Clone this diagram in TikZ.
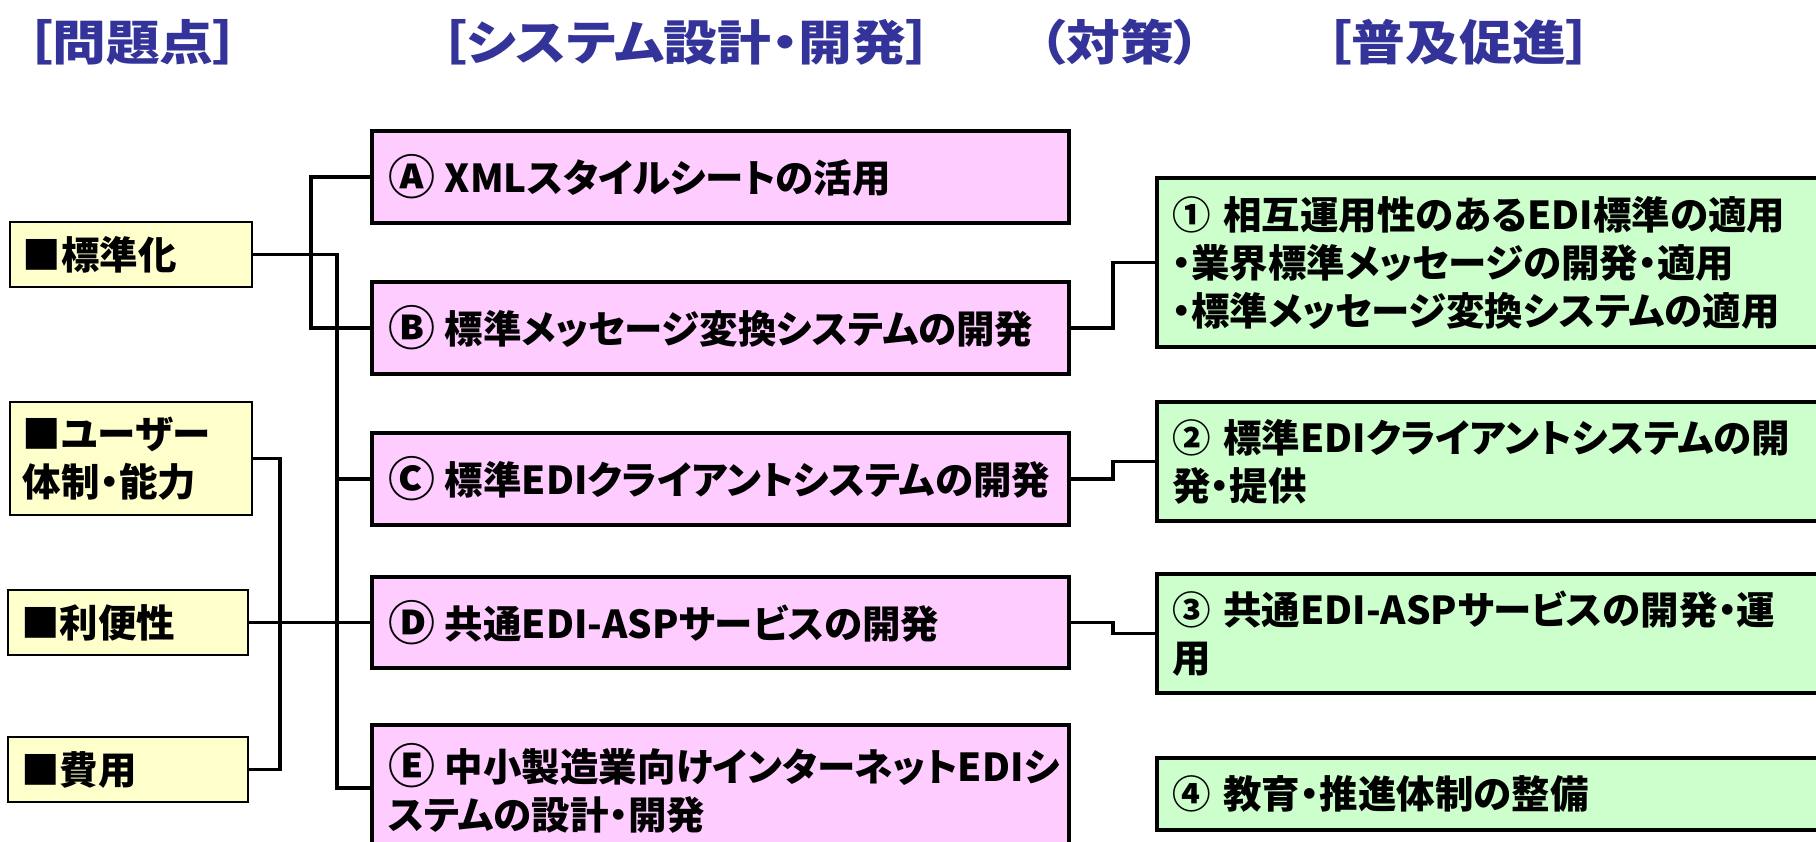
\documentclass[tikz,border=0pt]{standalone}
\usepackage{fontspec}
\setmainfont{Noto Sans CJK JP}[RawFeature=+palt]
\definecolor{yfill}{HTML}{FFFFCC}
\definecolor{pfill}{HTML}{FFCCFF}
\definecolor{gfill}{HTML}{CCFFCC}
\definecolor{hblue}{HTML}{333399}
\newcommand{\cl}[1]{\raisebox{-0.06em}{\scalebox{1.22}{#1}}\hspace{-3pt}}
\newcommand{\hd}[1]{\scalebox{1.12}[1]{#1}}
\begin{document}
\begin{tikzpicture}[x=1pt,y=-1pt,
  boxtext/.style={font=\bfseries\fontsize{38.5}{48}\selectfont, align=left, anchor=center, inner ysep=0pt},
  ybox/.style={boxtext, draw=black, line width=2pt, fill=yfill, text width=216pt, inner xsep=13pt},
  pbox/.style={boxtext, draw=black, line width=4pt, fill=pfill, text width=665pt, inner xsep=16pt},
  gbox/.style={boxtext, draw=black, line width=4pt, fill=gfill, text width=643pt, inner xsep=15pt},
  conn/.style={draw=black, line width=3.5pt},
  head/.style={font=\bfseries\fontsize{48}{56}\selectfont, text=hblue, inner sep=0pt},
]
\useasboundingbox (0,0) rectangle (1816,842);
\fill[white] (0,0) rectangle (1816,842);
\clip (0,0) rectangle (1816,842);

% headers
\node[head] (h1) at (133,42) {\hd{［問題点］}};
\node[head] (h2) at (686,42) {\hd{［システム設計・開発］}};
\node[head] (h3) at (1120,42) {\hd{（対策）}};
\node[head] (h4) at (1459,42) {\hd{［普及促進］}};

% problem boxes
\node[ybox, minimum height=65pt] (std) at (131,254.5) {■標準化};
\node[ybox, minimum height=113pt] (usr) at (131,458.5) {■ユーザー\\体制・能力};
\node[ybox, minimum height=65pt, text width=214pt] (ben) at (128,622.5) {■利便性};
\node[ybox, minimum height=65pt, text width=214pt] (cost) at (128,769.5) {■費用};

% system boxes
\node[pbox, minimum height=92pt] (A) at (720.5,177) {\cl{Ⓐ} XMLスタイルシートの活用};
\node[pbox, minimum height=92pt] (B) at (720.5,328) {\cl{Ⓑ} 標準メッセージ変換システムの開発};
\node[pbox, minimum height=92pt] (C) at (720.5,479) {\cl{Ⓒ} 標準EDIクライアントシステムの開発};
\node[pbox, minimum height=91pt] (D) at (720.5,622.5) {\cl{Ⓓ} 共通EDI-ASPサービスの開発};
\node[pbox, minimum height=126pt] (E) at (720.5,788) {\cl{Ⓔ} 中小製造業向けインターネットEDIシ\\ステムの設計・開発};

% promotion boxes
\node[gbox, minimum height=169pt] (g1) at (1493.5,262.5) {① 相互運用性のあるEDI標準の適用\\・業界標準メッセージの開発・適用\\・標準メッセージ変換システムの適用};
\node[gbox, minimum height=119pt] (g2) at (1493.5,461.5) {② 標準EDIクライアントシステムの開\\発・提供};
\node[gbox, minimum height=119pt] (g3) at (1493.5,633.5) {③ 共通EDI-ASPサービスの開発・運\\用};
\node[gbox, minimum height=72pt] (g4) at (1493.5,794) {④ 教育・推進体制の整備};

% bus coordinates
\coordinate (busL) at (311,0);
\coordinate (busR) at (337,0);
\coordinate (busU) at (280,0);
\coordinate (busG) at (1113,0);

% connectors
\draw[conn] (A.west) -- (A.west -| busL) -- (B.west -| busL) -- (B.west);
\draw[conn] (std.east) -- (std.east -| busR) -- (E.west -| busR) -- (E.west);
\draw[conn] (C.west -| busR) -- (C.west);
\draw[conn] (usr.east) -- (usr.east -| busU) -- (cost.east -| busU) -- (cost.east);
\draw[conn] (ben.east) -- (D.west);
\draw[conn] (B.east) -- (B.east -| busG) -- (g1.west -| busG) -- (g1.west);
\draw[conn] (C.east) -- (C.east -| busG) -- (g2.west -| busG) -- (g2.west);
\draw[conn] (D.east) -- (D.east -| busG) -- (g3.west -| busG) -- (g3.west);
\end{tikzpicture}
\end{document}
